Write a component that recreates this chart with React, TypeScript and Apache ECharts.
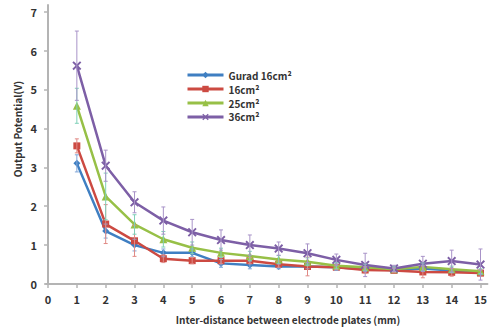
import React, { useEffect, useRef } from "react";
import * as echarts from "echarts";

const distances = [1, 2, 3, 4, 5, 6, 7, 8, 9, 10, 11, 12, 13, 14, 15];
const xTicks = [0, 1, 2, 3, 4, 5, 6, 7, 8, 9, 10, 11, 12, 13, 14, 15];
const yTicks = [0, 1, 2, 3, 4, 5, 6, 7];

const seriesNames = ["Gurad 16cm²", "16cm²", "25cm²", "36cm²"];
const gurad16 = [3.10, 1.36, 1.00, 0.80, 0.80, 0.53, 0.49, 0.45, 0.45, 0.43, 0.38, 0.36, 0.40, 0.35, 0.30];
const plate16 = [3.55, 1.54, 1.11, 0.65, 0.60, 0.60, 0.60, 0.51, 0.45, 0.43, 0.36, 0.35, 0.31, 0.30, 0.28];
const plate25 = [4.58, 2.25, 1.53, 1.15, 0.93, 0.80, 0.72, 0.63, 0.57, 0.47, 0.43, 0.38, 0.44, 0.38, 0.33];
const plate36 = [5.61, 3.04, 2.10, 1.63, 1.33, 1.13, 1.00, 0.91, 0.79, 0.62, 0.49, 0.40, 0.52, 0.59, 0.50];

const gurad16Err = [0.22, 0.18, 0.15, 0.10, 0.10, 0.10, 0.10, 0.06, 0.06, 0.08, 0.06, 0.05, 0.08, 0.06, 0.06];
const plate16Err = [0.18, 0.50, 0.40, 0.10, 0.08, 0.08, 0.08, 0.08, 0.24, 0.06, 0.08, 0.06, 0.15, 0.10, 0.08];
const plate25Err = [0.45, 0.60, 0.25, 0.20, 0.15, 0.12, 0.12, 0.10, 0.10, 0.08, 0.08, 0.06, 0.10, 0.08, 0.06];
const plate36Err = [0.89, 0.40, 0.27, 0.35, 0.33, 0.26, 0.26, 0.17, 0.24, 0.15, 0.30, 0.08, 0.19, 0.28, 0.40];

const values = [gurad16, plate16, plate25, plate36];
const errors = [gurad16Err, plate16Err, plate25Err, plate36Err];
const colors = ["#3f7fc2", "#cc4a42", "#97c047", "#7d5fa6"];
const errColors = ["#7fa6d8", "#e08a86", "#7fd0b8", "#a893c8"];
const symbols = [
  "diamond",
  "rect",
  "triangle",
  "path://M0,1.5L1.5,0L5,3.5L8.5,0L10,1.5L6.5,5L10,8.5L8.5,10L5,6.5L1.5,10L0,8.5L3.5,5Z",
];
const symbolSizes = [7, 7, 8, 9];

const FONT = "'Noto Sans CJK JP', 'Noto Sans', sans-serif";

export default function App() {
  const ref = useRef<HTMLDivElement>(null);
  useEffect(() => {
    if (!ref.current) return;
    const chart = echarts.init(ref.current, undefined, { renderer: "svg" });

    const lineSeries = values.map((vals, i) => ({
      type: "line",
      name: seriesNames[i],
      data: distances.map((d, j) => [d, vals[j]]),
      symbol: symbols[i],
      symbolSize: symbolSizes[i],
      showAllSymbol: true,
      z: 3 + i,
      lineStyle: { color: colors[i], width: 2.5 },
      itemStyle: { color: colors[i] },
    }));

    const errSeries = values.map((vals, i) => ({
      type: "custom",
      name: seriesNames[i] + " err",
      data: distances.map((d, j) => [d, vals[j] - errors[i][j], vals[j] + errors[i][j]]),
      encode: { x: 0, y: [1, 2] },
      z: 10,
      silent: true,
      renderItem: (params: any, api: any) => {
        const x = api.value(0);
        const lo = api.coord([x, api.value(1)]);
        const hi = api.coord([x, api.value(2)]);
        const style = { stroke: errColors[i], lineWidth: 1 };
        const c = 2;
        return {
          type: "group",
          children: [
            { type: "line", shape: { x1: lo[0], y1: lo[1], x2: hi[0], y2: hi[1] }, style },
            { type: "line", shape: { x1: hi[0] - c, y1: hi[1], x2: hi[0] + c, y2: hi[1] }, style },
            { type: "line", shape: { x1: lo[0] - c, y1: lo[1], x2: lo[0] + c, y2: lo[1] }, style },
          ],
        };
      },
    }));

    chart.setOption({
      animation: false,
      backgroundColor: "#ffffff",
      grid: { left: 46, right: 0, top: 5, bottom: 45, containLabel: false },
      legend: {
        data: seriesNames,
        orient: "vertical",
        left: 181,
        top: 65,
        itemWidth: 36,
        itemHeight: 8,
        itemGap: 4,
        lineStyle: { width: 3 },
        textStyle: { fontFamily: FONT, fontSize: 10, fontWeight: "bold", color: "#333" },
      },
      xAxis: {
        type: "value",
        min: -0.07,
        max: 15.24,
        splitLine: { show: false },
        axisLine: { show: true, onZero: false, lineStyle: { color: "#b4b4b4", width: 2 } },
        axisTick: { show: true, customValues: xTicks, length: 4, lineStyle: { color: "#b4b4b4", width: 1.5 } },
        axisLabel: {
          customValues: xTicks,
          margin: 9,
          fontFamily: FONT,
          fontSize: 11,
          fontWeight: "bold",
          color: "#333",
        },
      },
      yAxis: {
        type: "value",
        min: 0,
        max: 7.17,
        splitLine: { show: false },
        axisLine: { show: true, lineStyle: { color: "#b4b4b4", width: 2 } },
        axisTick: { show: true, customValues: yTicks, length: 4, lineStyle: { color: "#b4b4b4", width: 1.5 } },
        axisLabel: {
          customValues: yTicks,
          margin: 9,
          fontFamily: FONT,
          fontSize: 11,
          fontWeight: "bold",
          color: "#333",
        },
      },
      graphic: [
        {
          type: "text",
          x: 17,
          y: 129,
          rotation: Math.PI / 2,
          style: {
            text: "Output Potential(V)",
            fontFamily: FONT,
            fontSize: 10,
            fontWeight: "bold",
            fill: "#333",
            align: "center",
            verticalAlign: "middle",
          },
        },
        {
          type: "text",
          x: 288,
          y: 319,
          style: {
            text: "Inter-distance between electrode plates (mm)",
            fontFamily: FONT,
            fontSize: 10,
            fontWeight: "bold",
            fill: "#333",
            align: "center",
            verticalAlign: "middle",
          },
        },
      ],
      series: [...lineSeries, ...errSeries],
    });
    return () => chart.dispose();
  }, []);
  return <div ref={ref} style={{ width: 490, height: 329, position: "absolute", left: 0, top: 0 }} />;
}
